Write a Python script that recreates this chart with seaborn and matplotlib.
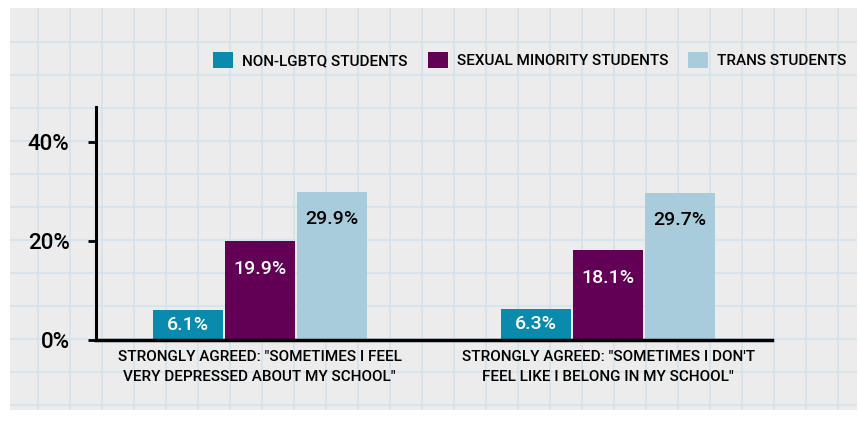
import numpy as np
import pandas as pd
import matplotlib.pyplot as plt
import seaborn as sns

# data
questions = ['STRONGLY AGREED: "SOMETIMES I FEEL\nVERY DEPRESSED ABOUT MY SCHOOL"',
             'STRONGLY AGREED: "SOMETIMES I DON\'T\nFEEL LIKE I BELONG IN MY SCHOOL"']
groups = ['NON-LGBTQ STUDENTS', 'SEXUAL MINORITY STUDENTS', 'TRANS STUDENTS']
non_lgbtq = [6.1, 6.3]
sexual_minority = [19.9, 18.1]
trans = [29.9, 29.7]
colors = ['#0a8aad', '#620055', '#a8ccdc']
label_colors = ['white', 'white', 'black']
yticks = [0, 20, 40]
ytick_labels = ['0%', '20%', '40%']

df = pd.DataFrame({
    'question': questions * 3,
    'group': np.repeat(groups, len(questions)),
    'pct': non_lgbtq + sexual_minority + trans,
})

sns.set_style('white')
plt.rcParams['font.family'] = ['Roboto', 'DejaVu Sans']
plt.rcParams['text.color'] = 'black'
plt.rcParams['xtick.color'] = 'black'
plt.rcParams['ytick.color'] = 'black'

fig = plt.figure(figsize=(8.59, 4.34), dpi=100)
fig.patch.set_facecolor('white')

# graph paper background
W, H = 859, 434
bg = fig.add_axes([10 / W, 1 - 410 / H, 847 / W, 402 / H], zorder=0)
bg.set_facecolor('#ececec')
bg.set_xlim(10, 857)
bg.set_ylim(410, 8)
bg.set_xticks(np.arange(38, 857, 32))
bg.set_yticks(np.arange(42, 410, 33))
bg.grid(True, color='#d3e2ec', lw=1.1)
bg.tick_params(length=0, labelbottom=False, labelleft=False)
for s in bg.spines.values():
    s.set_visible(False)

ax = fig.add_axes([96 / W, 1 - 340 / H, 676 / W, 233 / H], zorder=1)
ax.set_facecolor('none')
sns.barplot(data=df, x='question', y='pct', hue='group', hue_order=groups,
            palette=colors, width=0.62, gap=0.03, saturation=1, linewidth=0, ax=ax)

# value labels inside the bars
for cont, tc in zip(ax.containers, label_colors):
    for bar in cont:
        h = bar.get_height()
        ax.text(bar.get_x() + bar.get_width() / 2, h - min(h / 2, 5.5), f'{h:.1f}%',
                ha='center', va='center', color=tc, fontsize=14, fontweight='medium')

ax.set_xlim(-0.47, 1.47)
ax.set_ylim(0, 47)
ax.set_yticks(yticks)
ax.set_yticklabels(ytick_labels, fontsize=16, fontweight='medium')
ax.set_xlabel('')
ax.set_ylabel('')
ax.tick_params(axis='y', length=6, width=2, pad=13, left=True, color='black')
ax.tick_params(axis='x', length=0, pad=7, labelsize=11)
for lab in ax.get_xticklabels():
    lab.set_linespacing(1.6)
    lab.set_fontweight('medium')
sns.despine(ax=ax)
ax.spines['left'].set_linewidth(2.2)
ax.spines['bottom'].set_linewidth(2.5)
ax.spines['left'].set_color('black')
ax.spines['bottom'].set_color('black')

handles, labels = ax.get_legend_handles_labels()
ax.get_legend().remove()
fig.legend(handles, labels, loc='center', bbox_to_anchor=(530 / W, 1 - 60 / H),
           ncol=3, frameon=False, prop={'size': 11, 'weight': 'medium'},
           handlelength=1.3, handleheight=1.3, handletextpad=0.6, columnspacing=1.3)

plt.savefig('out.png', dpi=100)
plt.close()
